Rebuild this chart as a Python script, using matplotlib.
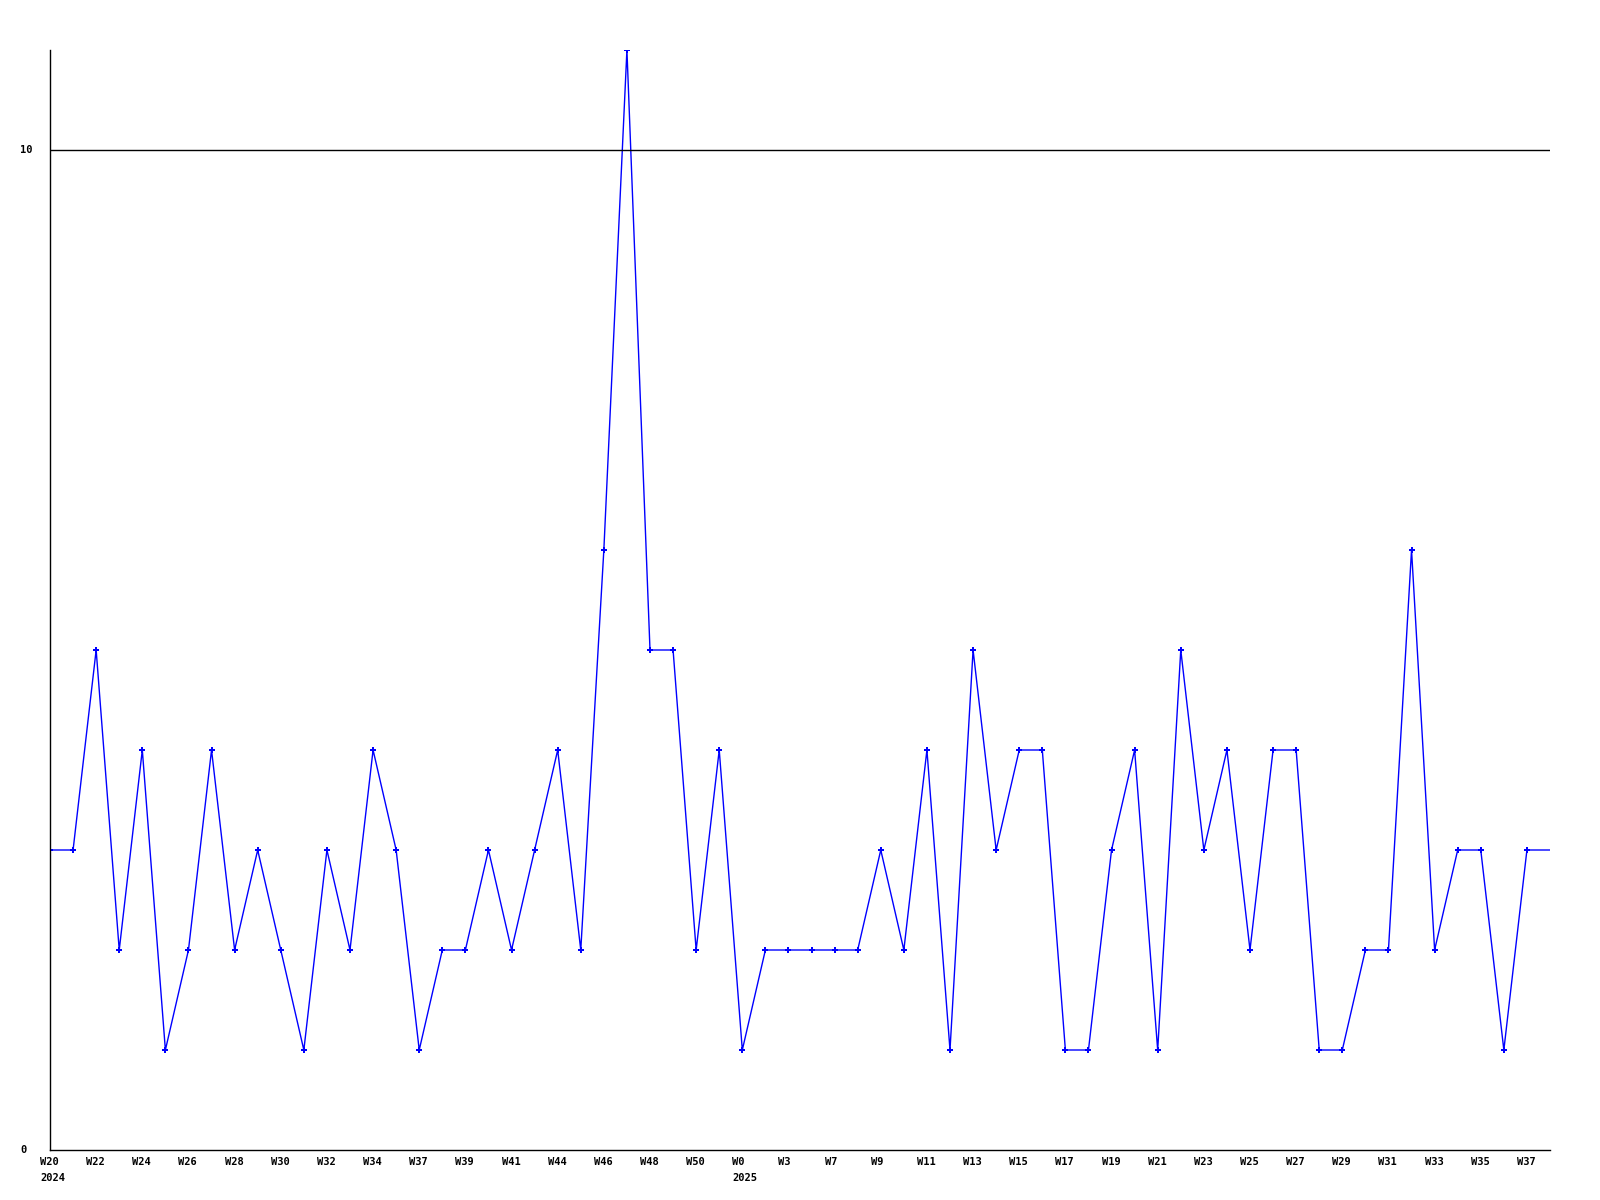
import matplotlib
matplotlib.use('Agg')
import matplotlib.pyplot as plt
import matplotlib.transforms as mtransforms

# weekly counts, W20 2024 .. W37 2025 (last value only draws the line to the edge)
values = [3, 3, 5, 2, 4, 1, 2, 4, 2, 3, 2, 1, 3, 2, 4, 3, 1, 2, 2, 3,
          2, 3, 4, 2, 6, 11, 5, 5, 2, 4, 1, 2, 2, 2, 2, 2, 3, 2, 4, 1,
          5, 3, 4, 4, 1, 1, 3, 4, 1, 5, 3, 4, 2, 4, 4, 1, 1, 2, 2, 6,
          2, 3, 3, 1, 3, 3]
week_labels = ['W20', 'W22', 'W24', 'W26', 'W28', 'W30', 'W32', 'W34', 'W37',
               'W39', 'W41', 'W44', 'W46', 'W48', 'W50', 'W0', 'W3', 'W7', 'W9',
               'W11', 'W13', 'W15', 'W17', 'W19', 'W21', 'W23', 'W25', 'W27',
               'W29', 'W31', 'W33', 'W35', 'W37']
year_labels = {0: '2024', 30: '2025'}
y_ticks = [0, 10]

fig = plt.figure(figsize=(16, 12), dpi=100)
ax = fig.add_axes([50 / 1600, 50 / 1200, 1500 / 1600, 1100 / 1200])

x = list(range(len(values)))
ax.plot(x, values, color='#0000ff', lw=1, marker='P', ms=4.5, mew=0,
        markevery=list(range(len(values) - 1)))

ax.set_xlim(0, len(values) - 1)
ax.set_ylim(0, 11)
ax.axhline(10, color='black', lw=1)

for s in ['top', 'right']:
    ax.spines[s].set_visible(False)
for s in ['left', 'bottom']:
    ax.spines[s].set_linewidth(1)
    ax.spines[s].set_color('black')

font = dict(family='DejaVu Sans Mono', weight='bold', size=7.5)
ax.set_xticks([])
ax.set_yticks([])

off = mtransforms.ScaledTranslation(-10 / 100, 0, fig.dpi_scale_trans)
xtr = mtransforms.blended_transform_factory(ax.transData, fig.transFigure) + off
for k, lab in enumerate(week_labels):
    i = 2 * k
    ax.text(i, 1 - 1162 / 1200, lab, transform=xtr, ha='left', va='center', **font)
    if i in year_labels:
        ax.text(i, 1 - 1178 / 1200, year_labels[i], transform=xtr,
                ha='left', va='center', **font)

ytr = mtransforms.blended_transform_factory(fig.transFigure, ax.transData)
for v in y_ticks:
    ax.text(20 / 1600, v, str(v), transform=ytr, ha='left', va='center', **font)

fig.savefig('out.png', dpi=100)
